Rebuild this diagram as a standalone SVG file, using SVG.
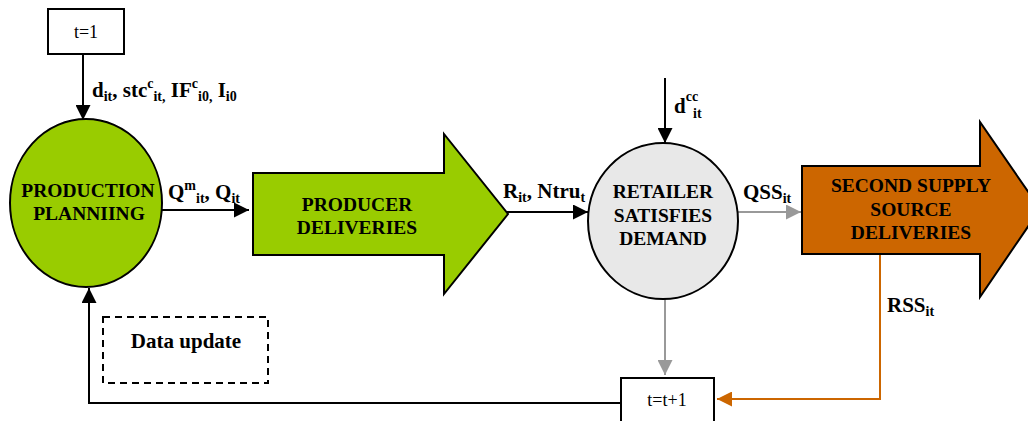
<svg xmlns="http://www.w3.org/2000/svg" width="1028" height="421" viewBox="0 0 1028 421" font-family="Liberation Serif, Times New Roman, Times, DejaVu Serif, serif">
<style>
.box{fill:#fff;stroke:#000;stroke-width:2}
.edge{fill:none;stroke:#000;stroke-width:2}
.gray{fill:none;stroke:#999;stroke-width:2}
.orange{fill:none;stroke:#cc6600;stroke-width:2}
.nt{font-weight:bold;font-size:19.5px;text-anchor:middle;fill:#000}
.lbl{font-weight:bold;font-size:21px;fill:#000}
.sb{font-size:14px}
.plain{font-size:18px;text-anchor:middle;fill:#000}
</style>
<defs>
<marker id="ab" markerUnits="userSpaceOnUse" markerWidth="15" markerHeight="15" refX="15" refY="7.5" orient="auto"><path d="M0,0 L15,7.5 L0,15 z" fill="#000"/></marker>
<marker id="ag" markerUnits="userSpaceOnUse" markerWidth="15" markerHeight="15" refX="15" refY="7.5" orient="auto"><path d="M0,0 L15,7.5 L0,15 z" fill="#999"/></marker>
<marker id="ao" markerUnits="userSpaceOnUse" markerWidth="15" markerHeight="15" refX="15" refY="7.5" orient="auto"><path d="M0,0 L15,7.5 L0,15 z" fill="#cc6600"/></marker>
</defs>

<g id="connectors">
<line class="edge" x1="83" y1="54" x2="83" y2="120" marker-end="url(#ab)"/>
<line class="edge" x1="162" y1="210" x2="249" y2="210" marker-end="url(#ab)"/>
<line class="edge" x1="506" y1="212" x2="588" y2="212" marker-end="url(#ab)"/>
<line class="edge" x1="665" y1="78" x2="665" y2="143" marker-end="url(#ab)"/>
<line class="gray" x1="738" y1="212" x2="801" y2="212" marker-end="url(#ag)"/>
<line class="gray" x1="665" y1="299" x2="665" y2="375" marker-end="url(#ag)"/>
<polyline class="orange" points="880,254 880,399 717,399" marker-end="url(#ao)"/>
<polyline class="edge" points="621,403 89,403 89,288" marker-end="url(#ab)"/>
<text class="lbl" x="92" y="97">d<tspan class="sb" dy="4">it</tspan><tspan dy="-4">, stc</tspan><tspan class="sb" dy="-9">c</tspan><tspan class="sb" dy="13">it,</tspan><tspan dy="-4"> IF</tspan><tspan class="sb" dy="-9">c</tspan><tspan class="sb" dy="13">i0,</tspan><tspan dy="-4"> I</tspan><tspan class="sb" dy="4">i0</tspan></text>
<text class="lbl" x="168" y="199">Q<tspan class="sb" dy="-9">m</tspan><tspan class="sb" dy="13">it</tspan><tspan dy="-4">, Q</tspan><tspan class="sb" dy="4">it</tspan></text>
<text class="lbl" x="503" y="198">R<tspan class="sb" dy="4">it</tspan><tspan dy="-4">, Ntru</tspan><tspan class="sb" dy="4">t</tspan></text>
<text class="lbl" x="674" y="113">d<tspan class="sb" dy="-12">cc</tspan><tspan class="sb" x="693" dy="17">it</tspan></text>
<text class="lbl" x="743" y="199">QSS<tspan class="sb" dy="4">it</tspan></text>
<text class="lbl" x="887" y="312">RSS<tspan class="sb" dy="4">it</tspan></text>
</g>

<g id="t1">
<rect class="box" x="48" y="9" width="76" height="45"/>
<text class="plain" x="86" y="38">t=1</text>
</g>

<g id="production-planning">
<ellipse cx="86" cy="203" rx="76" ry="84" fill="#99cc00" stroke="#000" stroke-width="2"/>
<text class="nt" x="88" y="197">PRODUCTION</text>
<text class="nt" x="89" y="220">PLANNIING</text>
</g>

<g id="producer-deliveries">
<polygon points="253,173 444,173 444,134 508,214 444,294 444,255 253,255" fill="#99cc00" stroke="#000" stroke-width="2"/>
<text class="nt" x="357" y="211">PRODUCER</text>
<text class="nt" x="357" y="234">DELIVERIES</text>
</g>

<g id="retailer">
<ellipse cx="663" cy="221" rx="75" ry="78" fill="#e8e8e8" stroke="#000" stroke-width="2"/>
<text class="nt" x="663" y="198">RETAILER</text>
<text class="nt" x="663" y="222">SATISFIES</text>
<text class="nt" x="663" y="245">DEMAND</text>
</g>

<g id="second-supply">
<polygon points="802,166 980,166 980,122 1040,209 980,297 980,254 802,254" fill="#cc6600" stroke="#000" stroke-width="2"/>
<text class="nt" x="911" y="192">SECOND SUPPLY</text>
<text class="nt" x="911" y="216">SOURCE</text>
<text class="nt" x="911" y="239">DELIVERIES</text>
</g>

<g id="t-next">
<rect class="box" x="621" y="378" width="93" height="52"/>
<text class="plain" x="667" y="406">t=t+1</text>
</g>

<g id="data-update">
<rect x="103" y="317" width="165" height="66" fill="none" stroke="#000" stroke-width="2" stroke-dasharray="7,5"/>
<text class="lbl" x="186" y="348" text-anchor="middle" font-size="22">Data update</text>
</g>
</svg>
